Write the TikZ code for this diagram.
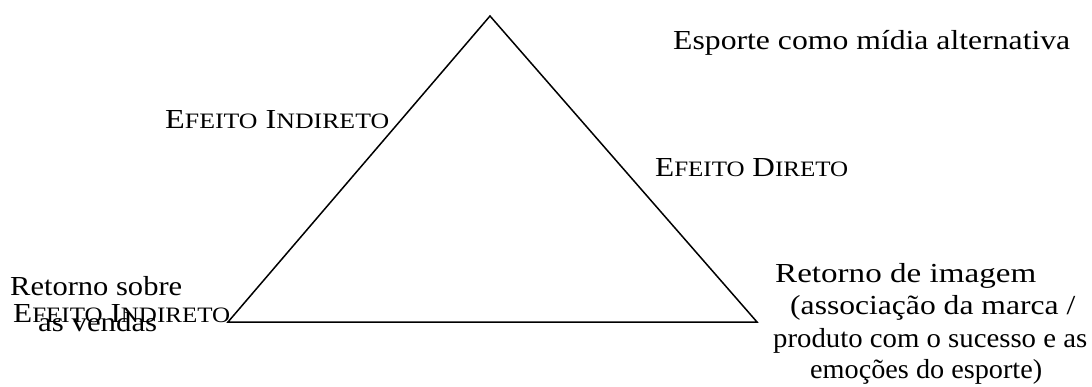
\documentclass[tikz,border=0pt]{standalone}
\usepackage{fontspec}
\setmainfont{Liberation Serif}
\usepackage{graphicx}
\newcommand{\fitw}[2]{\resizebox{#1pt}{\height}{#2}}
\newcommand{\fsc}[1]{{\fontsize{22}{26}\selectfont #1}}
\begin{document}
\begin{tikzpicture}[x=1pt,y=-1pt,
  lbl/.style={inner sep=0pt,anchor=base west,font=\fontsize{27.5}{31}\selectfont},
  tri/.style={draw=black,line width=1.5pt,line join=miter}]
\useasboundingbox (0,0) rectangle (1092,387);
\coordinate (apex) at (490,16);
\coordinate (bl) at (228,322);
\coordinate (br) at (757,322);
\draw[tri] (apex) -- (bl) -- (br) -- cycle;
\node[lbl] (esp) at (673,50) {\fitw{397}{Esporte como mídia alternativa}};
\node[lbl] (ei1) at (165,129) {\fitw{224}{E\fsc{FEITO} I\fsc{NDIRETO}}};
\node[lbl] (ed) at (655,177) {\fitw{193}{E\fsc{FEITO} D\fsc{IRETO}}};
\node[lbl] (rs1) at (10,295) {\fitw{172}{Retorno sobre}};
\node[lbl] (rs2) at (38,331) {\fitw{119}{as vendas}};
\node[lbl] (ei2) at (13,323) {\fitw{217}{E\fsc{FEITO} I\fsc{NDIRETO}}};
\node[lbl] (ri1) at (775,283) {\fitw{261}{Retorno de imagem}};
\node[lbl] (ri2) at (790,315) {\fitw{285}{(associação da marca /}};
\node[lbl] (ri3) at (773,347) {\fitw{314}{produto com o sucesso e as}};
\node[lbl] (ri4) at (810,378) {\fitw{232}{emoções do esporte)}};
\end{tikzpicture}
\end{document}
